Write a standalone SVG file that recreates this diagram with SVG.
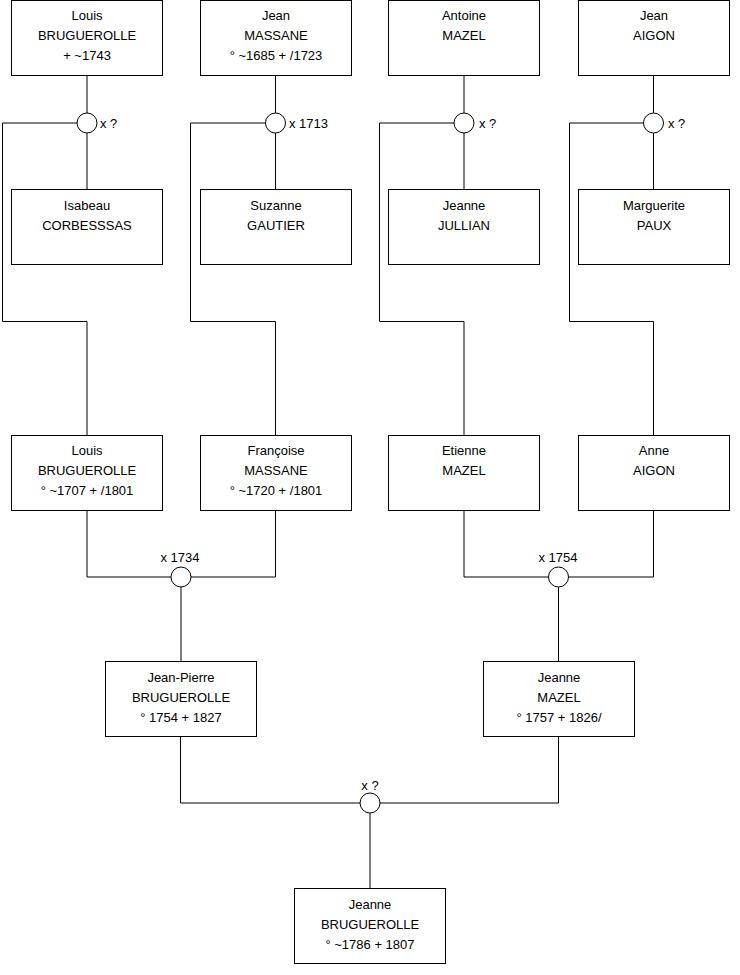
<svg xmlns="http://www.w3.org/2000/svg" width="740" height="975" viewBox="0 0 740 975">
<style>
.box{fill:#fff;stroke:#000;stroke-width:1}
.t{font-family:"Liberation Sans",Arial,sans-serif;font-size:13px;fill:#000;text-anchor:middle}
.l{font-family:"Liberation Sans",Arial,sans-serif;font-size:13px;fill:#000}
.c{fill:none;stroke:#000;stroke-width:1}
.m{fill:#fff;stroke:#000;stroke-width:1}
</style>
<rect width="740" height="975" fill="#fff"/>
<g id="connectors" class="c">
<path d="M87,75.5V113M87,133V189M77,123H2.5V321.5H87V435"/>
<path d="M275.5,75.5V113M275.5,133V189M265.5,123H190.5V321.5H275.5V435"/>
<path d="M464,75.5V113M464,133V189M454,123H379.5V321.5H464V435"/>
<path d="M653.5,75.5V113M653.5,133V189M643.5,123H569.5V321.5H653.5V435"/>
<path d="M87,511V577H171M191,577H275.5V511M181,587V661"/>
<path d="M464,511V577H548.5M568.5,577H653.5V511M558.5,587V661"/>
<path d="M180.5,737V803H360M380,803H558.5V737M370,813V888"/>
</g>
<g id="marriage1"><circle class="m" cx="87" cy="123" r="10"/><text class="l" x="100" y="128">x ?</text></g>
<g id="marriage2"><circle class="m" cx="275.5" cy="123" r="10"/><text class="l" x="289" y="128">x 1713</text></g>
<g id="marriage3"><circle class="m" cx="464" cy="123" r="10"/><text class="l" x="479" y="128">x ?</text></g>
<g id="marriage4"><circle class="m" cx="653.5" cy="123" r="10"/><text class="l" x="668" y="128">x ?</text></g>
<g id="marriage5"><circle class="m" cx="181" cy="577" r="10"/><text class="t" x="180" y="562">x 1734</text></g>
<g id="marriage6"><circle class="m" cx="558.5" cy="577" r="10"/><text class="t" x="558" y="562">x 1754</text></g>
<g id="marriage7"><circle class="m" cx="370" cy="803" r="10"/><text class="t" x="370" y="790">x ?</text></g>

<g id="n1"><rect class="box" x="11.5" y="0.5" width="151" height="75"/><text class="t" x="87" y="20">Louis</text><text class="t" x="87" y="40">BRUGUEROLLE</text><text class="t" x="87" y="60">+ ~1743</text></g>
<g id="n2"><rect class="box" x="200.5" y="0.5" width="151" height="75"/><text class="t" x="276" y="20">Jean</text><text class="t" x="276" y="40">MASSANE</text><text class="t" x="276" y="60">° ~1685 + /1723</text></g>
<g id="n3"><rect class="box" x="388.5" y="0.5" width="151" height="75"/><text class="t" x="464" y="20">Antoine</text><text class="t" x="464" y="40">MAZEL</text></g>
<g id="n4"><rect class="box" x="578.5" y="0.5" width="151" height="75"/><text class="t" x="654" y="20">Jean</text><text class="t" x="654" y="40">AIGON</text></g>

<g id="n5"><rect class="box" x="11.5" y="189.5" width="151" height="75"/><text class="t" x="87" y="210">Isabeau</text><text class="t" x="87" y="230">CORBESSSAS</text></g>
<g id="n6"><rect class="box" x="200.5" y="189.5" width="151" height="75"/><text class="t" x="276" y="210">Suzanne</text><text class="t" x="276" y="230">GAUTIER</text></g>
<g id="n7"><rect class="box" x="388.5" y="189.5" width="151" height="75"/><text class="t" x="464" y="210">Jeanne</text><text class="t" x="464" y="230">JULLIAN</text></g>
<g id="n8"><rect class="box" x="578.5" y="189.5" width="151" height="75"/><text class="t" x="654" y="210">Marguerite</text><text class="t" x="654" y="230">PAUX</text></g>

<g id="n9"><rect class="box" x="11.5" y="435.5" width="151" height="75"/><text class="t" x="87" y="455">Louis</text><text class="t" x="87" y="475">BRUGUEROLLE</text><text class="t" x="87" y="495">° ~1707 + /1801</text></g>
<g id="n10"><rect class="box" x="200.5" y="435.5" width="151" height="75"/><text class="t" x="276" y="455">Françoise</text><text class="t" x="276" y="475">MASSANE</text><text class="t" x="276" y="495">° ~1720 + /1801</text></g>
<g id="n11"><rect class="box" x="388.5" y="435.5" width="151" height="75"/><text class="t" x="464" y="455">Etienne</text><text class="t" x="464" y="475">MAZEL</text></g>
<g id="n12"><rect class="box" x="578.5" y="435.5" width="151" height="75"/><text class="t" x="654" y="455">Anne</text><text class="t" x="654" y="475">AIGON</text></g>

<g id="n13"><rect class="box" x="105.5" y="661.5" width="151" height="75"/><text class="t" x="181" y="682">Jean-Pierre</text><text class="t" x="181" y="702">BRUGUEROLLE</text><text class="t" x="181" y="722">° 1754 + 1827</text></g>
<g id="n14"><rect class="box" x="483.5" y="661.5" width="151" height="75"/><text class="t" x="559" y="682">Jeanne</text><text class="t" x="559" y="702">MAZEL</text><text class="t" x="559" y="722">° 1757 + 1826/</text></g>

<g id="n15"><rect class="box" x="294.5" y="888.5" width="151" height="75"/><text class="t" x="370" y="909">Jeanne</text><text class="t" x="370" y="929">BRUGUEROLLE</text><text class="t" x="370" y="949">° ~1786 + 1807</text></g>
</svg>
